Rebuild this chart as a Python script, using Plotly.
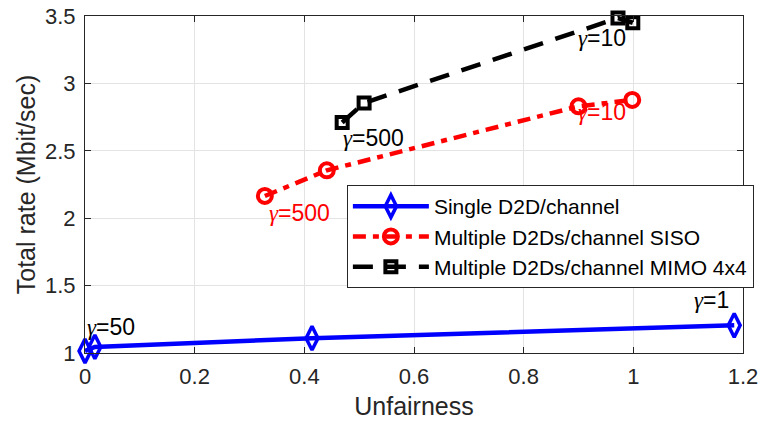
import plotly.graph_objects as go

# Unfairness vs. total rate for three D2D channel-sharing schemes
single_x = [0.0, 0.018, 0.414, 1.184]
single_y = [1.015, 1.045, 1.11, 1.205]

siso_x = [0.328, 0.441, 0.90, 0.998]
siso_y = [2.165, 2.355, 2.83, 2.877]

mimo_x = [0.469, 0.509, 0.972, 0.999]
mimo_y = [2.71, 2.855, 3.485, 3.45]

x_ticks = [0, 0.2, 0.4, 0.6, 0.8, 1.0, 1.2]
x_tick_text = ["0", "0.2", "0.4", "0.6", "0.8", "1", "1.2"]
y_ticks = [1, 1.5, 2, 2.5, 3, 3.5]
y_tick_text = ["1", "1.5", "2", "2.5", "3", "3.5"]

# gamma labels: (x, y, value, colour, anchor)
labels = [
    (0.0, 1.19, "50", "black", "left"),
    (1.178, 1.39, "1", "black", "right"),
    (0.332, 2.04, "500", "red", "left"),
    (0.895, 2.79, "10", "red", "left"),
    (0.466, 2.595, "500", "black", "left"),
    (0.895, 3.34, "10", "black", "left"),
]

FONT = "Liberation Sans, Arial, Helvetica, sans-serif"
SERIF = "Liberation Serif, Times New Roman, serif"
AX = "#262626"

fig = go.Figure()
fig.add_trace(go.Scatter(
    x=single_x, y=single_y, mode="lines+markers", name="Single D2D/channel",
    line=dict(color="#0000ff", width=4.5), cliponaxis=False,
    marker=dict(symbol="diamond-tall-open", size=17, color="#0000ff", line=dict(width=3.5)),
))
fig.add_trace(go.Scatter(
    x=siso_x, y=siso_y, mode="lines+markers", name="Multiple D2Ds/channel SISO",
    line=dict(color="#ff0000", width=4.5, dash="13px,7px,6px,7px"), cliponaxis=False,
    marker=dict(symbol="circle-open", size=14, color="#ff0000", line=dict(width=4)),
))
fig.add_trace(go.Scatter(
    x=mimo_x, y=mimo_y, mode="lines+markers", name="Multiple D2Ds/channel MIMO 4x4",
    line=dict(color="#000000", width=4.5, dash="20px,13px"), cliponaxis=False,
    marker=dict(symbol="square-open", size=11, color="#000000", line=dict(width=4)),
))

for x, y, v, c, anc in labels:
    txt = f"<span style='font-family:{SERIF}'><i>γ</i></span>={v}"
    fig.add_annotation(x=x, y=y, text=txt, showarrow=False, xanchor=anc, yanchor="middle",
                       font=dict(family=FONT, size=23, color=c))

axis_common = dict(
    showline=True, linecolor=AX, linewidth=1, mirror="ticks",
    ticks="inside", ticklen=6, tickcolor=AX,
    showgrid=True, gridcolor="#e3e3e3", gridwidth=1, zeroline=False,
    tickfont=dict(family=FONT, size=22, color=AX), ticklabelstandoff=4,
    automargin=False,
)

fig.update_layout(
    width=760, height=425,
    margin=dict(l=85, r=17, t=16, b=72, autoexpand=False),
    paper_bgcolor="white", plot_bgcolor="white",
    font=dict(family=FONT, color=AX),
    xaxis=dict(range=[0, 1.2], tickvals=x_ticks, ticktext=x_tick_text,
               title=dict(text="Unfairness", font=dict(family=FONT, size=25, color=AX), standoff=9),
               **axis_common),
    yaxis=dict(range=[1, 3.5], tickvals=y_ticks, ticktext=y_tick_text,
               title=dict(text="Total rate (Mbit/sec)", font=dict(family=FONT, size=25, color=AX), standoff=2),
               **axis_common),
    legend=dict(x=0.398, y=0.4985, xanchor="left", yanchor="top",
                bgcolor="white", bordercolor=AX, borderwidth=1,
                font=dict(family=FONT, size=21, color="black"),
                tracegroupgap=0, itemwidth=76),
    showlegend=True,
)

fig.write_html("out.html")
